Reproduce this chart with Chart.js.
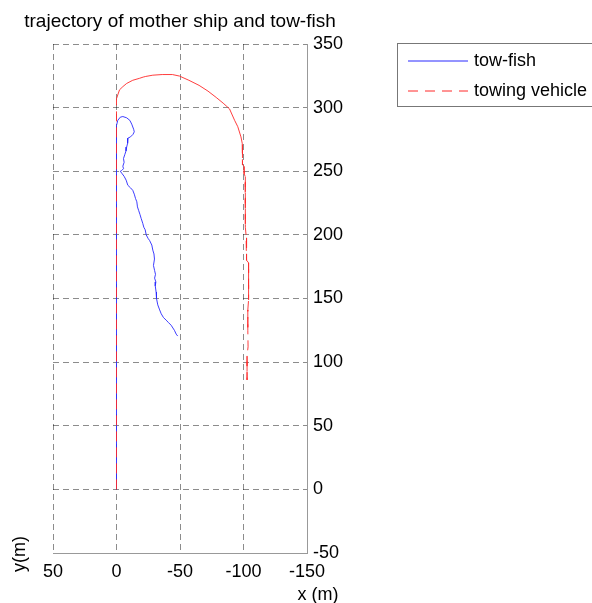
<!DOCTYPE html>
<html>
<head>
<meta charset="utf-8">
<script src="https://cdn.jsdelivr.net/npm/chart.js@4.4.1/dist/chart.umd.min.js"></script>
<style>
  html, body { margin: 0; padding: 0; background: #fff; }
  canvas { display: block; }
</style>
</head>
<body>
<canvas id="myChart" width="592" height="603"></canvas>
<script>
// texts
const chartTitle = "trajectory of mother ship and tow-fish";
const seriesNames = ["tow-fish", "towing vehicle"];
const xLabel = "x (m)";
const yLabel = "y(m)";
// tick labels
const xTicks = [50, 0, -50, -100, -150];
const yTicks = [-50, 0, 50, 100, 150, 200, 250, 300, 350];

// tow-fish path (m)
const towFishX = [0, 0, -1, -3, -5, -8, -10.5, -12, -13.5, -14, -13, -11, -9, -8.5, -9, -8, -7.5, -6.5, -5.5, -6,
  -5, -5.5, -4, -3, -4.5, -6, -7.6, -8.9, -11, -12.8, -14, -15, -16, -16.5, -17.5, -18.5, -19.4, -20.7, -21.5, -22.6,
  -23.4, -25, -26, -27.8, -28.6, -29.5, -29.9, -29.1, -30, -30.7, -30, -31, -30.5, -31.2, -31.5, -32.5, -34, -35.2, -37, -39.1,
  -41, -43, -45.6, -47, -48.2];
const towFishY = [0, 286, 290, 292.5, 293, 292, 290, 287, 283, 281, 279, 277, 276, 274, 272, 269, 266, 263, 260, 257,
  254, 252, 250.5, 250, 248, 246, 243, 239, 237, 235, 232, 228.5, 226, 222, 219, 216, 213, 209, 206, 204,
  200, 197, 195.7, 192, 188, 185, 181, 176, 172, 169, 166, 163, 160, 155, 150, 145, 141, 138, 135, 133,
  131, 129, 125, 122, 120.5];

// towing vehicle path (m)
const vehicleX = [0, 0, -1, -2.4, -5, -8, -12.8, -18, -21, -23, -28.6, -36, -44, -49.6, -57, -65, -72, -78.5, -84, -89,
  -93, -95.5, -98, -99, -99.2, -100.5, -100.5, -101.3, -101.3, -101.6, -102, -102.3, -102.5, -104, -104, -104, -103.4, -103.4, -103.6, -102.8,
  -102.8];
const vehicleY = [0, 307, 310, 314, 316.5, 319, 321.5, 323, 324, 324.5, 325.5, 326, 326, 324.8, 321.5, 317.5, 313, 308, 303.5, 299,
  290, 285, 277, 272, 255, 254, 248, 246, 222, 206, 200, 188, 180, 178, 167, 149, 141, 125, 112, 105,
  86];

const lineColors = ['rgb(40,40,255)', 'rgb(255,40,40)'];
const lineDashes = [[], [10, 7]];
const font = '"Liberation Sans", Arial, sans-serif';

const ctx = document.getElementById('myChart');

function toPoints(xs, ys) {
  return xs.map((x, i) => ({ x: x, y: ys[i] }));
}

// MATLAB-like legend box + free texts
const decorations = {
  id: 'decorations',
  afterDraw(chart) {
    const c = chart.ctx;
    const area = chart.chartArea;
    c.save();
    c.fillStyle = '#000';
    c.textBaseline = 'middle';

    // title
    c.font = '19px ' + font;
    c.textAlign = 'center';
    c.fillText(chartTitle, (area.left + area.right) / 2, 22);

    // axis labels
    c.font = '18px ' + font;
    c.fillText(xLabel, 318, 595);
    c.save();
    c.translate(20, 554);
    c.rotate(-Math.PI / 2);
    c.fillText(yLabel, 0, 0);
    c.restore();

    // legend
    c.fillStyle = '#fff';
    c.fillRect(397.5, 43.5, 210, 63);
    c.strokeStyle = '#777';
    c.lineWidth = 1;
    c.strokeRect(397.5, 43.5, 210, 63);
    const rows = [61, 91];
    seriesNames.forEach((name, i) => {
      c.strokeStyle = lineColors[i];
      c.lineWidth = 1;
      c.setLineDash(lineDashes[i]);
      c.beginPath();
      c.moveTo(408, rows[i]);
      c.lineTo(468, rows[i]);
      c.stroke();
      c.setLineDash([]);
      c.fillStyle = '#000';
      c.textAlign = 'left';
      c.fillText(name, 474, rows[i]);
    });
    c.restore();
  }
};

new Chart(ctx, {
  type: 'scatter',
  data: {
    datasets: [
      {
        label: seriesNames[0],
        data: toPoints(towFishX, towFishY),
        showLine: true,
        borderColor: lineColors[0],
        borderWidth: 0.9,
        pointRadius: 0,
        order: 2
      },
      {
        label: seriesNames[1],
        data: toPoints(vehicleX, vehicleY),
        showLine: true,
        borderColor: lineColors[1],
        borderWidth: 0.9,
        pointRadius: 0,
        order: 1,
        segment: {
          // long straight runs show the dash, the dense arc looks solid
          borderDash: s => Math.abs(s.p1.x - s.p0.x) < 1.2 ? [10, 6] : []
        }
      }
    ]
  },
  options: {
    responsive: false,
    animation: false,
    layout: { padding: { left: 53, top: 44, right: 240, bottom: 20 } },
    plugins: {
      legend: { display: false },
      title: { display: false },
      tooltip: { enabled: false }
    },
    scales: {
      x: {
        type: 'linear',
        reverse: true,
        min: -150,
        max: 50,
        afterBuildTicks: s => { s.ticks = xTicks.map(v => ({ value: v })); },
        afterFit: s => { s.height = 30; },
        ticks: {
          color: '#000',
          padding: 8,
          maxRotation: 0,
          font: { family: font, size: 18 },
          callback: v => String(v)
        },
        grid: { color: 'rgba(0,0,0,0.45)', drawTicks: false },
        border: { color: '#999', dash: [6, 4] }
      },
      y: {
        type: 'linear',
        position: 'right',
        min: -50,
        max: 350,
        afterBuildTicks: s => { s.ticks = yTicks.map(v => ({ value: v })); },
        afterFit: s => { s.width = 45; },
        ticks: {
          color: '#000',
          padding: 6,
          font: { family: font, size: 18 },
          callback: v => String(v)
        },
        grid: { color: 'rgba(0,0,0,0.45)', drawTicks: false },
        border: { color: '#999', dash: [6, 4] }
      }
    }
  },
  plugins: [decorations]
});
</script>
</body>
</html>
